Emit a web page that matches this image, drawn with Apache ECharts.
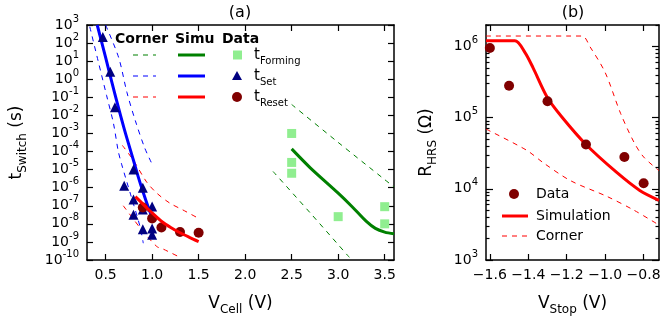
<!DOCTYPE html>
<html>
<head>
<meta charset="utf-8">
<script src="https://cdn.jsdelivr.net/npm/echarts@6/dist/echarts.min.js"></script>
<style>
  html, body { margin: 0; padding: 0; background: #fff; }
  #chart { width: 660px; height: 320px; }
</style>
</head>
<body>
<div id="chart"></div>
<script>
// ---- panel (a): switching time vs V_Cell ----
const vCellTicks = [0.5, 1.0, 1.5, 2.0, 2.5, 3.0, 3.5];
const tTicks = [1e-10, 1e-9, 1e-8, 1e-7, 1e-6, 1e-5, 1e-4, 1e-3, 1e-2, 1e-1, 1e0, 1e1, 1e2, 1e3];

const setData = [[0.47, 2.2e2], [0.55, 2.6e0], [0.60, 2.8e-2], [0.80, 1.0e-5], [0.70, 1.3e-6],
  [0.90, 1.0e-6], [0.80, 2.2e-7], [1.0, 9e-8], [0.90, 6.3e-8], [0.80, 3.2e-8],
  [0.90, 5e-9], [1.0, 5.6e-9], [1.0, 2.5e-9]];
const setSimu = [[0.41, 1e3], [0.5, 1.6e1], [0.6, 1.5e-1], [0.7, 1.8e-3], [0.8, 3.2e-5],
  [0.85, 4.1e-6], [0.9, 6.3e-7], [0.95, 1.1e-7], [1.0, 2.2e-8]];
const setCornerLo = [[0.33, 8e2], [0.42, 1e1], [0.51, 1.3e-1], [0.585, 3.5e-3], [0.635, 1.1e-4],
  [0.672, 2e-5], [0.77, 4e-7], [0.87, 7e-9], [0.905, 8.5e-10]];
const setCornerHi = [[0.5, 1e3], [0.64, 1.6e1], [0.73, 1.8e-1], [0.82, 5e-3], [0.92, 1.6e-4], [1.0, 2e-5]];

const resetData = [[0.9, 8e-8], [1.0, 2e-8], [1.1, 6.3e-9], [1.3, 3.5e-9], [1.5, 3.2e-9]];
const resetSimu = [[0.82, 3.2e-7], [0.87, 1.8e-7], [0.95, 7e-8], [1.0, 4e-8], [1.1, 1.4e-8],
  [1.2, 6.3e-9], [1.3, 3.2e-9], [1.4, 1.8e-9], [1.5, 1.05e-9]];
const resetCornerHi = [[0.68, 2.2e-4], [0.8, 3.2e-5], [0.94, 2.1e-6], [1.05, 5e-7], [1.19, 1.4e-7],
  [1.33, 5.9e-8], [1.5, 2e-8]];
const resetCornerLo = [[0.69, 1e-7], [0.8, 1.8e-8], [0.89, 4.5e-9], [1.05, 5.6e-10], [1.12, 4e-10], [1.3, 1.4e-10]];

const formData = [[2.5, 1e-3], [2.5, 2.5e-5], [2.5, 6.3e-6], [3.0, 2.5e-8], [3.5, 8.9e-8], [3.5, 1e-8]];
const formSimu = [[2.5, 1.4e-4], [2.7, 1.26e-5], [3.0, 5e-7], [3.15, 8.9e-8], [3.3, 1.4e-8],
  [3.4, 5.6e-9], [3.5, 3.5e-9], [3.6, 2.8e-9]];
const formCornerHi = [[2.5, 4e-2], [3.0, 3.2e-4], [3.5, 2.8e-6], [3.6, 1.1e-6]];
const formCornerLo = [[2.3, 7.9e-6], [2.7, 4e-8], [3.12, 1.4e-10]];

// ---- panel (b): R_HRS vs V_Stop ----
const vStopTicks = [-1.6, -1.4, -1.2, -1.0, -0.8];
const rTicks = [1e3, 1e4, 1e5, 1e6];
const rData = [[-1.6, 9.5e5], [-1.5, 2.8e5], [-1.3, 1.7e5], [-1.1, 4.2e4], [-0.9, 2.8e4], [-0.8, 1.2e4]];
const rSimu = [[-1.62, 1.2e6], [-1.47, 1.2e6], [-1.417, 8.2e5], [-1.375, 5e5], [-1.3, 1.9e5],
  [-1.22, 9.8e4], [-1.1, 4.2e4], [-0.94, 1.7e4], [-0.82, 9.5e3], [-0.72, 6.9e3]];
const rCornerHi = [[-1.62, 1.4e6], [-1.12, 1.4e6], [-1.08, 1.0e6], [-1.0, 4.3e5], [-0.92, 1.15e5],
  [-0.85, 4.5e4], [-0.8, 2.8e4], [-0.72, 1.8e4]];
const rCornerLo = [[-1.62, 6.9e4], [-1.41, 3.5e4], [-1.32, 2.3e4], [-1.18, 1.3e4], [-0.99, 7.8e3],
  [-0.85, 5e3], [-0.72, 3.1e3]];

const rMinorTicks = [];
rTicks.forEach(d => [2, 3, 4, 5, 6, 7, 8, 9].forEach(m => { if (d * m <= 2e6) rMinorTicks.push(d * m); }));

const FONT = 'DejaVu Sans';
const BLUE = '#0000ff', RED = '#ff0000', GREEN = '#008000';
const NAVY = '#000080', MAROON = '#800000', LIGHTGREEN = '#90ee90';

const powRich = {
  b: { fontFamily: FONT, fontSize: 14, lineHeight: 22, color: '#000' },
  sup: { fontFamily: FONT, fontSize: 10, lineHeight: 10, verticalAlign: 'top', color: '#000' }
};
const powLabel = v => '{b|10}{sup|' + Math.round(Math.log10(v)) + '}';

const nameStyle = {
  fontFamily: FONT, fontSize: 17, color: '#000', lineHeight: 24,
  rich: { sub: { fontFamily: FONT, fontSize: 12, lineHeight: 12, verticalAlign: 'bottom', color: '#000' } }
};

const lineStyle = { color: '#000', width: 1.5 };
function axis(opts, ticks, tickLen, labels) {
  return Object.assign({
    axisLine: { show: true, onZero: false, lineStyle },
    axisTick: { show: true, inside: true, length: tickLen, customValues: ticks, lineStyle: { color: '#000', width: 1.2 } },
    axisLabel: labels ? Object.assign({ customValues: ticks, fontFamily: FONT, fontSize: 14, color: '#000', margin: 8 }, labels)
                      : { show: false },
    splitLine: { show: false }
  }, opts);
}

function line(data, color, width, dashed, x, y, z) {
  return {
    type: 'line', data, xAxisIndex: x, yAxisIndex: y, symbol: 'none', smooth: 0.3, z: z || 2,
    lineStyle: { color, width, type: dashed ? [5, 5] : 'solid' }
  };
}
function dots(data, symbol, color, size, x, y, z) {
  return { type: 'scatter', data, xAxisIndex: x, yAxisIndex: y, symbol, symbolSize: size, z: z || 3,
    itemStyle: { color, opacity: 1 } };
}

const legendA = [];
[['Corner', 115], ['Simu', 175], ['Data', 222]].forEach(([t, x]) => legendA.push({
  type: 'text', x, y: 39, style: { text: t, fontFamily: FONT, fontWeight: 'bold', fontSize: 14, fill: '#000', verticalAlign: 'middle' }
}));
[[GREEN, 55, 'Forming'], [BLUE, 76, 'Set'], [RED, 97, 'Reset']].forEach(([c, y, sub], i) => {
  legendA.push({ type: 'line', shape: { x1: 133, y1: y, x2: 156, y2: y }, style: { stroke: c, lineWidth: 1, lineDash: [5, 5] } });
  legendA.push({ type: 'line', shape: { x1: 178, y1: y, x2: 205, y2: y }, style: { stroke: c, lineWidth: 3 } });
  if (i === 0) legendA.push({ type: 'rect', shape: { x: 233, y: y - 4.5, width: 9, height: 9 }, style: { fill: LIGHTGREEN } });
  if (i === 1) legendA.push({ type: 'polygon', shape: { points: [[237, y - 5], [242, y + 4], [232, y + 4]] }, style: { fill: NAVY } });
  if (i === 2) legendA.push({ type: 'circle', shape: { cx: 237, cy: y, r: 5 }, style: { fill: MAROON } });
  legendA.push({ type: 'text', x: 254, y: y, style: {
    text: 't{sub|' + sub + '}', fontFamily: FONT, fontSize: 15, fill: '#000', verticalAlign: 'middle', lineHeight: 22,
    rich: { sub: { fontFamily: FONT, fontSize: 10, lineHeight: 10, verticalAlign: 'bottom', fill: '#000' } }
  } });
});

const legendB = [
  { type: 'circle', shape: { cx: 514, cy: 194, r: 5 }, style: { fill: MAROON } },
  { type: 'line', shape: { x1: 502, y1: 216, x2: 528, y2: 216 }, style: { stroke: RED, lineWidth: 3 } },
  { type: 'line', shape: { x1: 502, y1: 236, x2: 528, y2: 236 }, style: { stroke: RED, lineWidth: 1, lineDash: [5, 5] } }
];
[['Data', 194], ['Simulation', 216], ['Corner', 236]].forEach(([t, y]) => legendB.push({
  type: 'text', x: 536, y, style: { text: t, fontFamily: FONT, fontSize: 14, fill: '#000', verticalAlign: 'middle' }
}));

const titles = [['(a)', 240], ['(b)', 573]].map(([t, x]) => ({
  type: 'text', x, y: 13, style: { text: t, fontFamily: FONT, fontSize: 16, fill: '#000', align: 'center', verticalAlign: 'middle' }
}));

const chart = echarts.init(document.getElementById('chart'), null, { renderer: 'canvas' });
chart.setOption({
  animation: false,
  backgroundColor: '#fff',
  grid: [
    { left: 87, top: 25, width: 307, height: 235, containLabel: false, outerBoundsMode: 'none' },
    { left: 486, top: 25, width: 173, height: 235, containLabel: false, outerBoundsMode: 'none' }
  ],
  xAxis: [
    axis({ gridIndex: 0, type: 'value', position: 'bottom', min: 0.3, max: 3.6,
      name: 'V{sub|Cell} (V)', nameLocation: 'middle', nameGap: 32, nameTextStyle: nameStyle },
      vCellTicks, 6, { formatter: v => v.toFixed(1) }),
    axis({ gridIndex: 0, type: 'value', position: 'top', min: 0.3, max: 3.6 }, vCellTicks, 6),
    axis({ gridIndex: 1, type: 'value', position: 'bottom', min: -1.62, max: -0.72,
      name: 'V{sub|Stop} (V)', nameLocation: 'middle', nameGap: 32, nameTextStyle: nameStyle },
      vStopTicks, 6, { formatter: v => v.toFixed(1).replace('-', '\u2212') }),
    axis({ gridIndex: 1, type: 'value', position: 'top', min: -1.62, max: -0.72 }, vStopTicks, 6)
  ],
  yAxis: [
    axis({ gridIndex: 0, type: 'log', logBase: 10, position: 'left', min: 1e-10, max: 1e3,
      name: 't{sub|Switch} (s)', nameLocation: 'middle', nameGap: 58, nameTextStyle: nameStyle },
      tTicks, 6, { formatter: powLabel, rich: powRich }),
    axis({ gridIndex: 0, type: 'log', logBase: 10, position: 'right', min: 1e-10, max: 1e3 }, tTicks, 6),
    axis({ gridIndex: 1, type: 'log', logBase: 10, position: 'left', min: 1e3, max: 2e6,
      name: 'R{sub|HRS} (\u03a9)', nameLocation: 'middle', nameGap: 47, nameTextStyle: nameStyle },
      rTicks, 7, { formatter: powLabel, rich: powRich }),
    Object.assign(axis({ gridIndex: 1, type: 'log', logBase: 10, position: 'left', min: 1e3, max: 2e6 }, rMinorTicks, 3.5),
      { axisLine: { show: false, onZero: false } }),
    axis({ gridIndex: 1, type: 'log', logBase: 10, position: 'right', min: 1e3, max: 2e6 }, rTicks, 7),
    Object.assign(axis({ gridIndex: 1, type: 'log', logBase: 10, position: 'right', min: 1e3, max: 2e6 }, rMinorTicks, 3.5),
      { axisLine: { show: false, onZero: false } })
  ],
  series: [
    line(formCornerHi, GREEN, 1, true, 0, 0),
    line(formCornerLo, GREEN, 1, true, 0, 0),
    dots(formData, 'rect', LIGHTGREEN, 9, 0, 0, 2),
    line(formSimu, GREEN, 3, false, 0, 0, 3),
    line(setCornerLo, BLUE, 1, true, 0, 0),
    line(setCornerHi, BLUE, 1, true, 0, 0),
    line(setSimu, BLUE, 3, false, 0, 0, 3),
    dots(setData, 'triangle', NAVY, 10, 0, 0, 4),
    line(resetCornerHi, RED, 1, true, 0, 0),
    line(resetCornerLo, RED, 1, true, 0, 0),
    dots(resetData, 'circle', MAROON, 10, 0, 0, 4),
    line(resetSimu, RED, 3, false, 0, 0, 5),

    line(rCornerHi, RED, 1, true, 2, 2),
    line(rCornerLo, RED, 1, true, 2, 2),
    line(rSimu, RED, 3, false, 2, 2, 3),
    dots(rData, 'circle', MAROON, 10, 2, 2, 4)
  ],
  graphic: { elements: legendA.concat(legendB, titles) }
});
</script>
</body>
</html>
